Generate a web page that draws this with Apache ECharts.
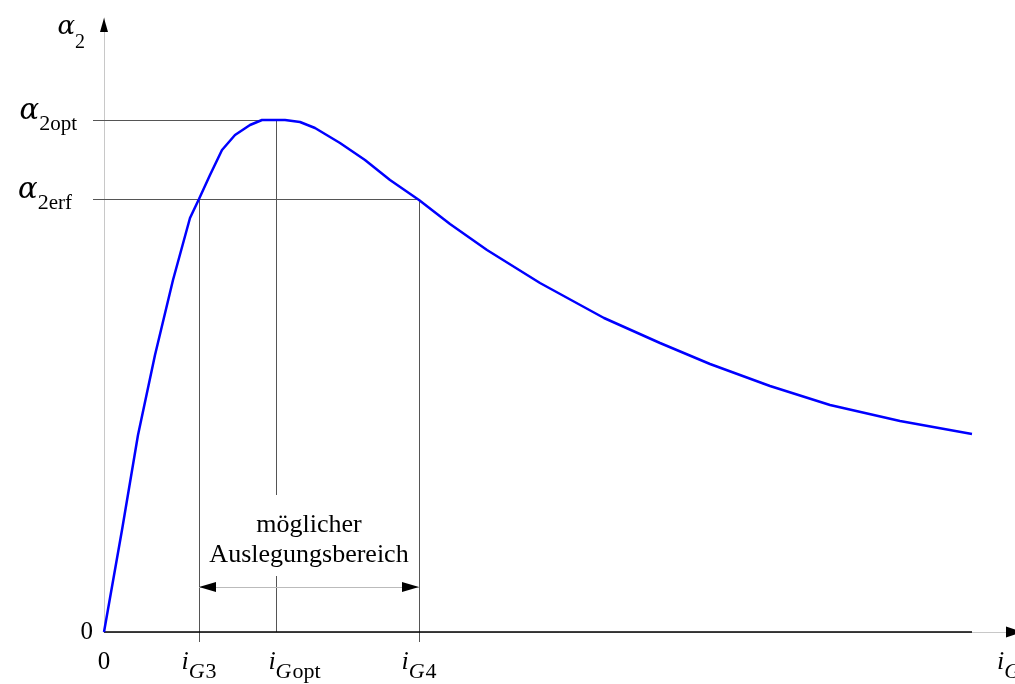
<!DOCTYPE html>
<html><head><meta charset="utf-8">
<script src="https://cdn.jsdelivr.net/npm/echarts@6/dist/echarts.min.js"></script>
<style>html,body{margin:0;padding:0;background:#fff}#c{width:1015px;height:684px}</style>
</head><body><div id="c"></div>
<script>
// ---- data (chart units) ----
const curveX = [0, 0.18, 0.34, 0.51, 0.69, 0.86, 0.95, 1.06, 1.18, 1.31, 1.46, 1.58, 1.72, 1.81, 1.96, 2.11, 2.36, 2.61, 2.86, 3.15, 3.46, 3.83, 4.36, 5.00, 5.56, 6.06, 6.66, 7.26, 7.96, 8.68];
const curveY = [0, 1.02, 1.97, 2.77, 3.52, 4.14, 4.33, 4.57, 4.82, 4.97, 5.07, 5.12, 5.12, 5.12, 5.10, 5.04, 4.89, 4.72, 4.52, 4.32, 4.08, 3.82, 3.49, 3.14, 2.89, 2.68, 2.46, 2.27, 2.11, 1.98];
const iG3 = 0.95, iGopt = 1.72, iG4 = 3.15;
const a2erf = 4.33, a2opt = 5.12;
const curveEnd = 8.68;
const xMax = 9.11, yMax = 6.14;
const rangeArrowY = 0.45;
const textGapLow = 0.56, textGapHigh = 1.37;
const xLabelValues = [0, iG3, iGopt, iG4, 9.05];
const xLabelTexts = ['{z|0}', '{i|i}{g|G}{n|3}', '{ip|i}{g|G}{n|opt}', '{i|i}{g|G}{n|4}', '{i|i}{g|G}'];
const yLabelValues = [0, a2erf, a2opt];
const yLabelTexts = ['{z|0}', '{a|α}{s|2}{te|erf}', '{a|α}{s|2}{to|opt}'];
const rangeText = ['möglicher', 'Auslegungsbereich'];

const F = 'Liberation Serif';
const FA = 'DejaVu Serif';
const chart = echarts.init(document.getElementById('c'));
const dark = '#555';
function seg(x1, y1, x2, y2, style, extra1, extra2) {
  return [Object.assign({coord: [x1, y1], lineStyle: style}, extra1 || {}), Object.assign({coord: [x2, y2]}, extra2 || {})];
}
const thin = {color: dark, width: 1, type: 'solid'};
chart.setOption({
  animation: false,
  grid: {left: 104, right: 0, top: 18, bottom: 52, containLabel: false, outerBoundsMode: 'none'},
  xAxis: {
    type: 'value', min: 0, max: xMax,
    splitLine: {show: false},
    axisLine: {show: true, lineStyle: {color: '#c8c8c8', width: 1}},
    axisTick: {show: true, customValues: [iG3, iG4], length: 10, lineStyle: {color: dark}},
    axisLabel: {
      customValues: xLabelValues, margin: 25, hideOverlap: false,
      formatter: function (v) { return xLabelTexts[xLabelValues.indexOf(v)] || ''; },
      rich: {
        z: {fontFamily: F, fontSize: 25, color: '#000', verticalAlign: 'bottom', lineHeight: 26, padding: [0, 0, 8, 0]},
        i: {fontFamily: F, fontStyle: 'italic', fontSize: 26, color: '#000', verticalAlign: 'bottom', lineHeight: 26, padding: [0, 0, 8, 0]},
        ip: {fontFamily: F, fontStyle: 'italic', fontSize: 26, color: '#000', verticalAlign: 'bottom', lineHeight: 26, padding: [0, 0, 8, 37]},
        g: {fontFamily: F, fontStyle: 'italic', fontSize: 22, color: '#000', verticalAlign: 'bottom', lineHeight: 22, padding: [0, 1, 0, 0]},
        n: {fontFamily: F, fontSize: 22, color: '#000', verticalAlign: 'bottom', lineHeight: 22}
      }
    }
  },
  yAxis: {
    type: 'value', min: 0, max: yMax,
    splitLine: {show: false},
    axisLine: {show: true, lineStyle: {color: '#c8c8c8', width: 1}},
    axisTick: {show: true, customValues: [a2erf, a2opt], length: 11, lineStyle: {color: dark}},
    name: '{a|α}{s|2}', nameLocation: 'end', nameGap: -21,
    nameTextStyle: {align: 'right', verticalAlign: 'middle', padding: [0, 19, 0, 0],
      rich: {
        a: {fontFamily: FA, fontStyle: 'italic', fontSize: 26, color: '#000', verticalAlign: 'bottom', lineHeight: 28, padding: [0, 0, 13, 0]},
        s: {fontFamily: F, fontSize: 20, color: '#000', verticalAlign: 'bottom', lineHeight: 20}
      }
    },
    axisLabel: {
      customValues: yLabelValues, margin: 11,
      formatter: function (v) { return yLabelTexts[yLabelValues.indexOf(v)] || ''; },
      rich: {
        z: {fontFamily: F, fontSize: 25, color: '#000'},
        a: {fontFamily: FA, fontStyle: 'italic', fontSize: 29, color: '#000', verticalAlign: 'bottom', lineHeight: 30, padding: [15, 0, 9, 0]},
        s: {fontFamily: F, fontSize: 22, color: '#000', verticalAlign: 'bottom', lineHeight: 22},
        to: {fontFamily: F, fontSize: 21, color: '#000', verticalAlign: 'bottom', lineHeight: 22, padding: [0, 16, 0, 0]},
        te: {fontFamily: F, fontSize: 21, color: '#000', verticalAlign: 'bottom', lineHeight: 22, padding: [0, 21, 0, 0]}
      }
    }
  },
  series: [{
    type: 'line',
    data: curveX.map((x, k) => [x, curveY[k]]),
    symbol: 'none', smooth: false, clip: false, silent: true, z: 5,
    lineStyle: {color: '#0000ff', width: 2.5},
    markLine: {
      silent: true, symbol: 'none', label: {show: false},
      data: [
        seg(0, a2opt, iGopt, a2opt, thin),
        seg(0, a2erf, iG4, a2erf, thin),
        seg(iG3, a2erf, iG3, 0, thin),
        seg(iG4, a2erf, iG4, 0, thin),
        seg(iGopt, a2opt, iGopt, textGapHigh, thin),
        seg(iGopt, textGapLow, iGopt, 0, thin),
        seg(iG3, rangeArrowY, iG4, rangeArrowY, {color: '#bbb', width: 1, type: 'solid'}),
        seg(iG3, rangeArrowY, iG4, rangeArrowY, {color: '#000', width: 0},
          {symbol: 'triangle', symbolSize: [10, 17], symbolOffset: [0, 8.5],
           label: {show: true, position: 'middle', distance: 17, formatter: rangeText.join('\n'),
                   fontFamily: F, fontSize: 26, color: '#000', lineHeight: 30, align: 'center'}},
          {symbol: 'triangle', symbolSize: [10, 17], symbolOffset: [0, 8.5]}),
        seg(0, 0, curveEnd, 0, {color: '#000', width: 1.5, type: 'solid'}),
        seg(curveEnd, 0, xMax, 0, {color: '#000', width: 0}, {}, {symbol: 'triangle', symbolSize: [11, 16], symbolOffset: [0, 1]}),
        seg(0, 0, 0, yMax, {color: '#000', width: 0}, {}, {symbol: 'triangle', symbolSize: [8, 14], symbolOffset: [0, 7]})
      ]
    }
  }]
});
</script>
</body></html>
